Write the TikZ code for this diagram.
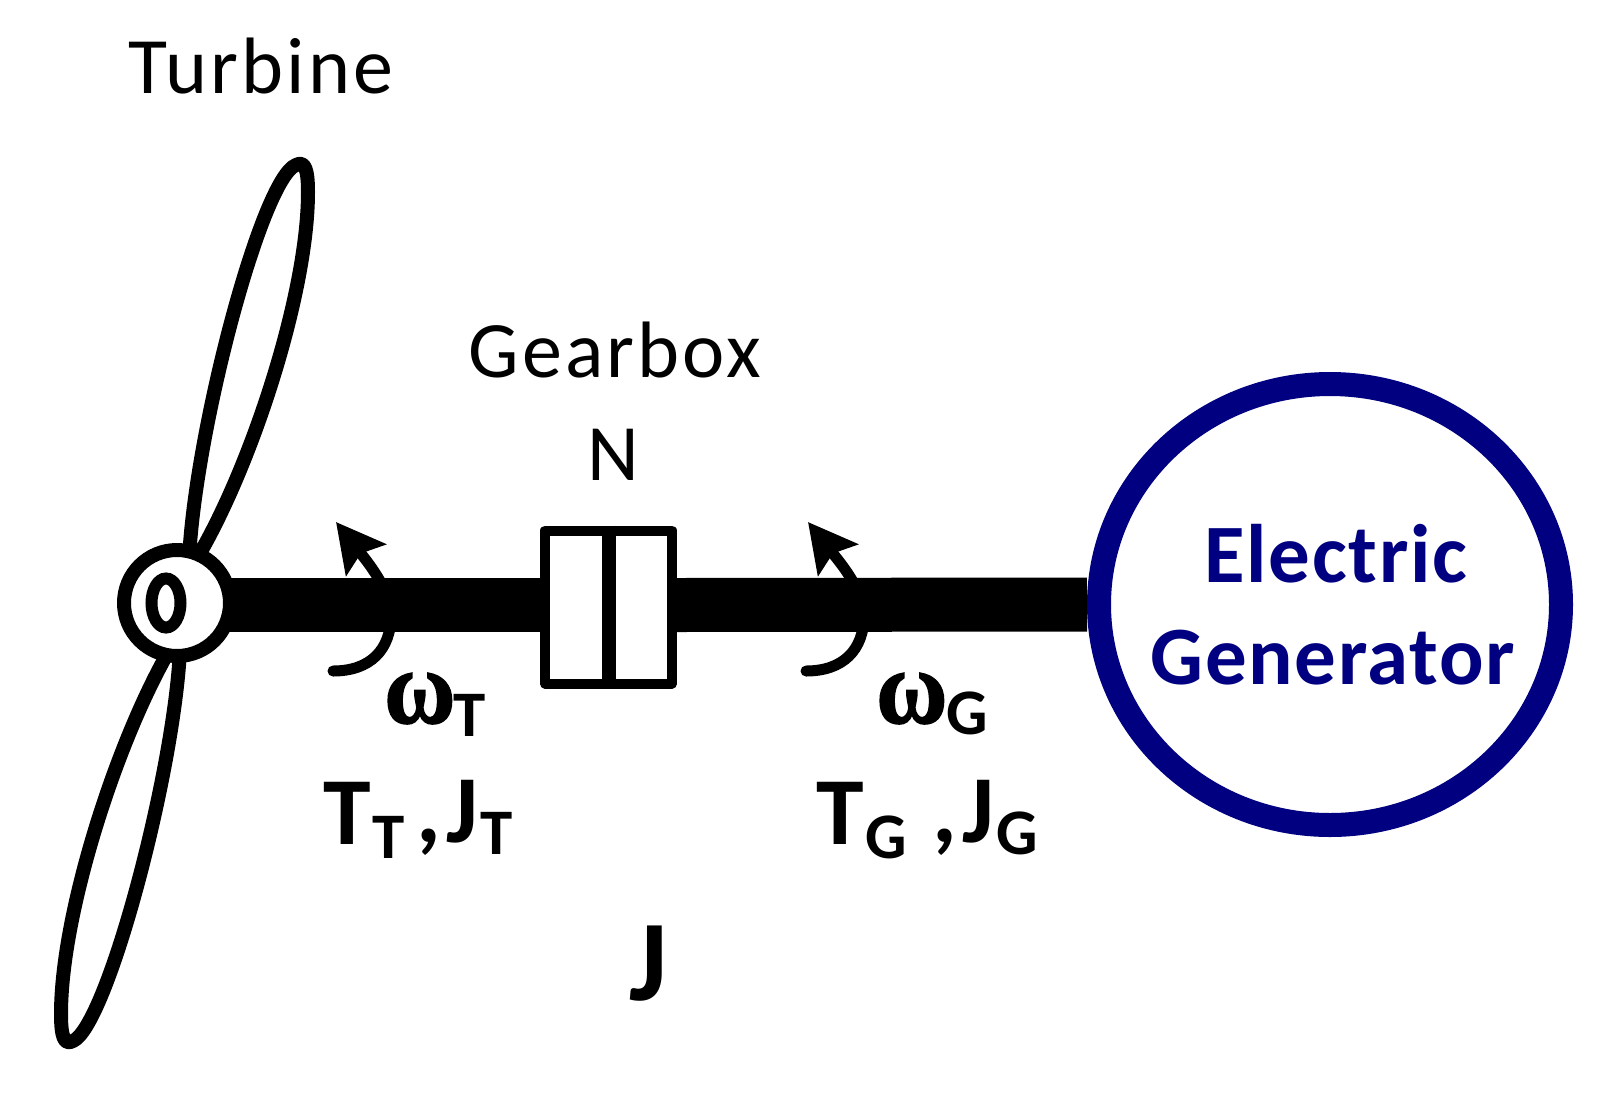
\documentclass[tikz,border=0pt]{standalone}
\usepackage{fontspec}
\setmainfont{Carlito}
\newfontfamily\labelfont[LetterSpace=4]{Carlito}
\newfontfamily\genfont[LetterSpace=2]{Carlito}
\newfontfamily\omegafont[BoldFeatures={FakeStretch=0.92,FakeBold=1.5}]{Liberation Serif}
\usetikzlibrary{arrows.meta,shapes.geometric}
\definecolor{gennavy}{RGB}{0,0,128}
\newcommand{\fsize}[1]{\fontsize{#1}{#1}\selectfont}
\tikzset{
	blade/.style={draw=black,fill=white,line width=14pt,line join=round},
	shaft/.style={line width=54pt},
	turn/.style={line width=11pt,line cap=round,-{Stealth[length=48pt,width=50pt,inset=8pt]}},
	plain/.style={inner sep=0pt,anchor=base,font=\labelfont\fsize{80}},
	bigsym/.style={inner sep=0pt,anchor=base west,font=\bfseries\fsize{96}},
	subsym/.style={inner sep=0pt,anchor=base west,font=\bfseries\fsize{65}},
	omegasym/.style={inner sep=0pt,anchor=base west,font=\omegafont\bfseries\fsize{106}},
	gentext/.style={inner sep=0pt,anchor=base,text=gennavy,font=\genfont\bfseries\fsize{83}},
}
\begin{document}
\begin{tikzpicture}[x=1pt,y=-1pt]
	\useasboundingbox (0,0) rectangle (1600,1093);
	%
	% THE BLADES
	\draw[blade] (189,560) .. controls (195,430) and (262,178) .. (296,165)
		.. controls (305,160) and (308,170) .. (308,192)
		.. controls (308,295) and (250,470) .. (196,560);
	\draw[blade] (180,650) .. controls (174,774) and (107,1026) .. (73,1041)
		.. controls (64,1046) and (61,1036) .. (61,1014)
		.. controls (61,911) and (119,734) .. (173,644);
	%
	% THE HUB, THE GEARBOX AND THE GENERATOR
	\node[circle,draw=black,fill=white,line width=14pt,minimum size=106pt,inner sep=0pt] (hub) at (177,603) {};
	\draw[line width=12pt] (166,603) ellipse (14.5 and 24.5);
	\node[rectangle,draw=black,fill=white,line width=10pt,line join=round,minimum width=127pt,minimum height=153pt,inner sep=0pt] (gearbox) at (608.5,607) {};
	\draw[line width=14pt] (gearbox.north) -- (gearbox.south);
	\node[ellipse,draw=gennavy,fill=white,line width=24pt,minimum width=462pt,minimum height=441pt,inner sep=0pt] (generator) at (1330,604.5) {};
	%
	% THE SHAFT
	\draw[shaft] ([yshift=2pt,xshift=-8pt]gearbox.west -| hub.east) -- ([yshift=2pt]gearbox.west);
	\draw[shaft] ([yshift=2pt]gearbox.east) -- (generator.west);
	%
	% THE TURNING ARROWS
	\coordinate (turbtail) at (333,671);
	\coordinate (turbtip) at (336,522);
	\coordinate (gentail) at (806,671);
	\coordinate (gentip) at (808,522);
	\draw[turn] (turbtail) .. controls (370,671) and (391,650) .. (391,615) .. controls (391,590) and (366,560) .. (turbtip);
	\draw[turn] (gentail) .. controls (843,671) and (864,650) .. (864,615) .. controls (864,590) and (838,560) .. (gentip);
	%
	% THE TEXTS
	\node[plain] (turbinelabel) at (261,93) {Turbine};
	\node[plain] (gearboxlabel) at (615,377) {Gearbox};
	\node[plain] (ratiolabel) at (613.5,480) {N};
	\node[gentext] (electriclabel) at (1336,582) {Electric};
	\node[gentext] (generatorlabel) at (1333,684) {Generator};
	%
	% TURBINE SIDE
	\node[omegasym] (omegat) at (384,723) {ω};
	\node[subsym] (omegatsub) at (453,736) {T};
	\node[bigsym] (torquet) at (323,844) {T};
	\node[subsym] (torquetsub) at (372,858) {T};
	\node[bigsym] (commat) at (416,842) {,};
	\node[bigsym] (inertiat) at (446,842) {J};
	\node[subsym] (inertiatsub) at (480,854) {T};
	%
	% GENERATOR SIDE
	\node[omegasym] (omegag) at (876,723) {ω};
	\node[subsym] (omegagsub) at (946,734) {G};
	\node[bigsym] (torqueg) at (816,844) {T};
	\node[subsym] (torquegsub) at (865,858) {G};
	\node[bigsym] (commag) at (932,842) {,};
	\node[bigsym] (inertiag) at (962,842) {J};
	\node[subsym] (inertiagsub) at (996,854) {G};
	%
	% TOTAL INERTIA
	\node[inner sep=0pt,anchor=base west,font=\bfseries\fsize{115}] (inertia) at (629,1000) {J};
\end{tikzpicture}
\end{document}
